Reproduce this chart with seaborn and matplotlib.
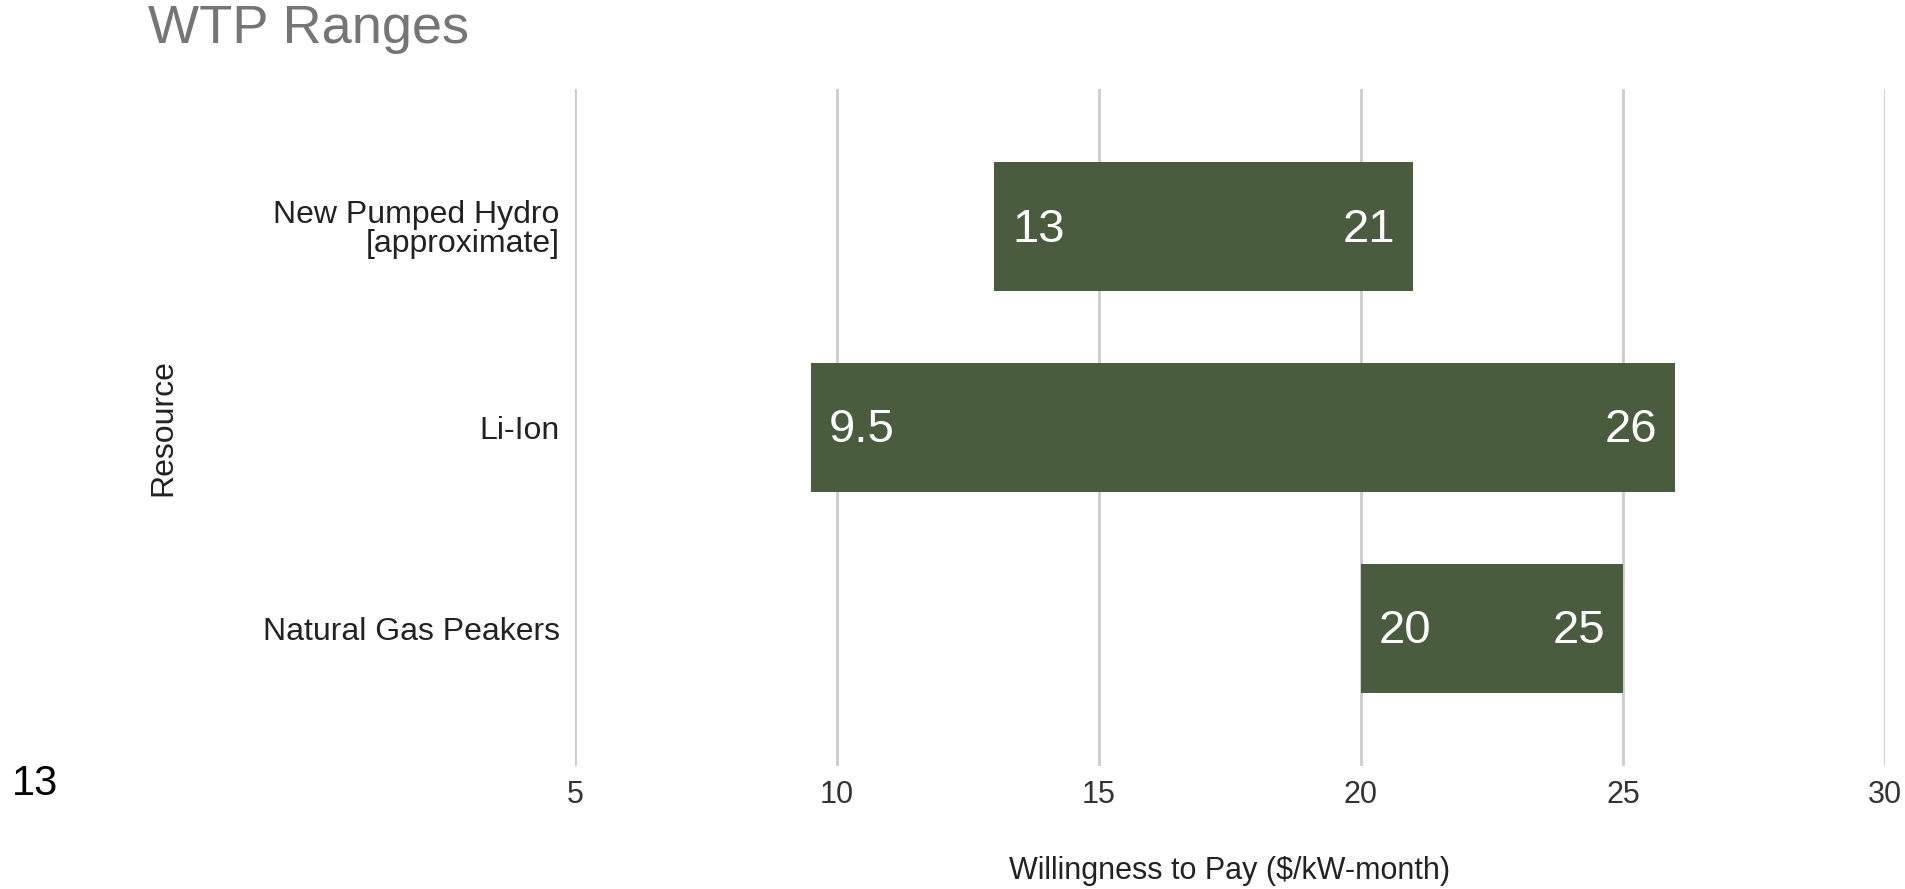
import seaborn as sns
import matplotlib.pyplot as plt
import pandas as pd

resources = ["New Pumped Hydro\n[approximate]", "Li-Ion", "Natural Gas Peakers"]
low = [13, 9.5, 20]
high = [21, 26, 25]
low_labels = ["13", "9.5", "20"]
high_labels = ["21", "26", "25"]
x_ticks = [5, 10, 15, 20, 25, 30]

df = pd.DataFrame({"Resource": resources, "low": low, "high": high})

sns.set_style("white")
plt.rcParams["font.family"] = ["Liberation Sans", "DejaVu Sans"]

f = plt.figure(figsize=(19.06, 8.89), dpi=100)
ax = f.add_axes([0.3017, 0.1384, 0.6872, 0.7616])

bar_color = "#4a5c3e"
sns.barplot(data=df, y="Resource", x="high", orient="h", color=bar_color,
            width=0.643, saturation=1, ax=ax, zorder=2)

# turn each bar into a floating range bar
for patch, lo, hi in zip(ax.patches, df["low"], df["high"]):
    patch.set_x(lo)
    patch.set_width(hi - lo)
    patch.set_edgecolor("none")

# labels inside the bars
for i, (lo, hi, lt, ht) in enumerate(zip(low, high, low_labels, high_labels)):
    ax.annotate(lt, (lo, i), xytext=(18, -3), textcoords="offset pixels",
                ha="left", va="center", color="white", fontsize=34, zorder=3)
    ax.annotate(ht, (hi, i), xytext=(-18, -3), textcoords="offset pixels",
                ha="right", va="center", color="white", fontsize=34, zorder=3)

ax.set_xlim(5, 30)
ax.set_ylim(2.687, -0.687)
ax.set_xticks(x_ticks)
ax.set_xticklabels([str(t) for t in x_ticks], fontsize=22, color="#333333")
ax.tick_params(axis="x", length=0, pad=10)
ax.tick_params(axis="y", length=0, pad=11, labelsize=23, labelcolor="#222222")
for lab in ax.get_yticklabels():
    lab.set_linespacing(0.95)

ax.xaxis.grid(True, color="#cccccc", linewidth=2, zorder=0)
ax.set_axisbelow(True)
sns.despine(ax=ax, left=True, bottom=True)

ax.set_xlabel("Willingness to Pay ($/kW-month)", fontsize=22, color="#222222", labelpad=33)
ax.set_ylabel("Resource", fontsize=23, color="#222222", labelpad=61)

f.text(0.0778, 0.967, "WTP Ranges", fontsize=39, color="#757575", ha="left", va="center")
f.text(0.0063, 0.118, "13", fontsize=30, color="black", ha="left", va="center")

f.savefig("out.png", dpi=100)
